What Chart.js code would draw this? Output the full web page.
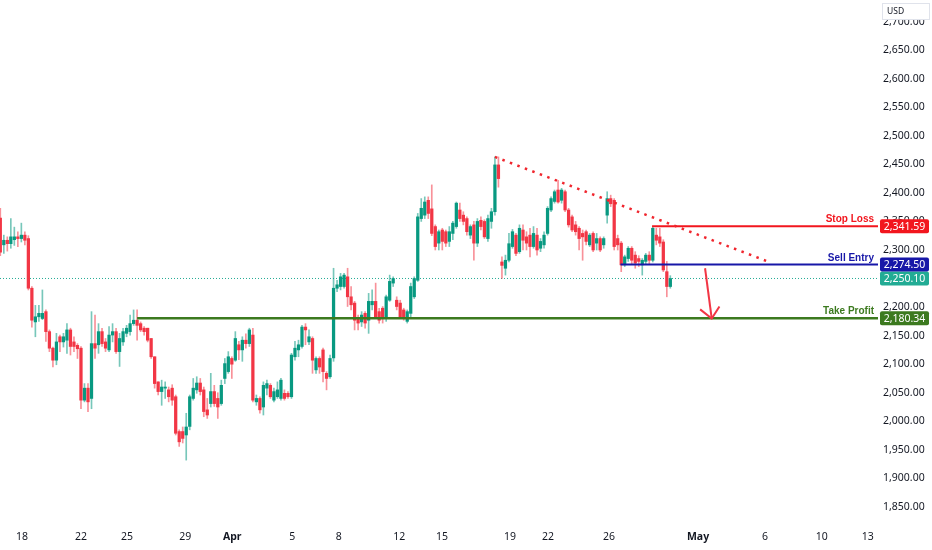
<!DOCTYPE html>
<html>
<head>
<meta charset="utf-8">
<script src="https://cdn.jsdelivr.net/npm/chart.js@4.4.1/dist/chart.umd.min.js"></script>
<style>
  html, body { margin: 0; padding: 0; background: #ffffff; }
  #wrap { width: 932px; height: 550px; position: relative; }
</style>
</head>
<body>
<div id="wrap"><canvas id="priceChart"></canvas></div>
<script>

/* candles (one per slot, oldest first) */

var opens = [
  2356,2309,2317,2311,2318,2323,2320,2326,2320,2233,
  2174,2183,2180,2192,2157,2128,2107,2148,2139,2142,
  2160,2139,2133,2128,2037,2058,2040,2136,2134,2157,
  2139,2125,2151,2157,2122,2139,2154,2157,2171,2177,
  2171,2163,2163,2145,2113,2069,2052,2058,2055,
  2058,2043,1982,1982,1976,1991,2040,2055,2067,2055,
  2020,2031,2052,2040,2031,2075,2087,2110,2107,2134,
  2125,2142,2136,2151,2034,2040,2025,2058,2063,2037,
  2043,2040,2049,2049,2043,2113,2125,2131,2165,2139,
  2145,2090,2110,2125,2084,2078,2111,
  2233,2236,2236,2253,2218,2207,2180,2174,2189,2177,
  2204,2210,2192,2198,2180,2212,2242,2212,2207,2195,
  2175,2189,2218,2247,2355,2361,2387,2372,2341,2312,
  2335,2332,2315,2329,2341,2370,2361,2355,2326,2344,
  2312,2352,2350,2320,2350,2367,2449,
  2279,2268,2282,2306,2326,2297,2335,2323,2326,2306,
  2326,2303,2309,2329,2370,2385,2405,2387,2402,2370,
  2358,2344,2338,2329,2332,2309,2329,2312,2320,2309,
  2361,2390,2387,2320,2312,2274,2285,2303,2291,2285,
  2274,2280,2291,2282,2326,2323,2314,2262,2236
];
var highs = [
  2373,2326,2323,2355,2340,2332,2347,2332,2325,2236,
  2203,2203,2230,2195,2160,2130,2154,2151,2154,2171,
  2163,2148,2136,2131,2066,2066,2192,2186,2171,2163,
  2145,2166,2171,2163,2154,2163,2168,2186,2195,2195,
  2174,2166,2163,2145,2113,2069,2072,2069,2060,
  2064,2046,1985,1990,2014,2046,2075,2078,2075,2060,
  2040,2084,2063,2050,2072,2110,2122,2113,2157,2140,
  2148,2153,2163,2163,2046,2043,2069,2072,2066,2058,
  2069,2075,2055,2052,2119,2140,2142,2168,2171,2160,
  2148,2113,2113,2128,2087,2116,2268,
  2247,2259,2259,2268,2236,2210,2186,2192,2192,2224,
  2230,2242,2198,2201,2221,2256,2253,2218,2212,2198,
  2195,2242,2253,2364,2390,2393,2393,2414,2344,2335,
  2338,2335,2341,2350,2384,2382,2367,2358,2344,2350,
  2355,2358,2353,2361,2373,2463,2463,
  2288,2291,2329,2336,2329,2344,2344,2332,2338,2341,
  2338,2320,2332,2376,2393,2405,2422,2408,2405,2373,
  2361,2350,2341,2335,2335,2329,2332,2329,2323,2323,
  2402,2396,2390,2326,2315,2291,2306,2306,2297,2290,
  2285,2294,2297,2341,2338,2338,2318,2280,2255
];
var lows = [
  2290,2294,2298,2303,2308,2306,2314,2309,2230,2165,
  2148,2175,2178,2140,2122,2095,2099,2122,2130,2119,
  2116,2122,2110,2022,2034,2017,2022,2110,2119,2131,
  2122,2122,2139,2119,2096,2133,2148,2151,2168,2142,
  2157,2151,2139,2110,2058,2046,2028,2040,2034,
  2028,1976,1956,1962,1932,1985,2037,2049,2046,2008,
  2005,2025,2026,2005,2028,2066,2084,2075,2105,2108,
  2105,2128,2131,2034,2028,2014,2011,2046,2040,2034,
  2040,2037,2037,2040,2040,2107,2113,2128,2134,2134,
  2084,2084,2084,2069,2055,2075,2105,
  2227,2230,2233,2201,2195,2160,2160,2166,2163,2154,
  2195,2180,2172,2172,2175,2210,2236,2195,2180,2177,
  2172,2180,2215,2245,2350,2355,2355,2325,2300,2300,
  2300,2306,2306,2318,2338,2350,2344,2326,2320,2282,
  2306,2335,2320,2315,2338,2361,2410,
  2250,2256,2279,2303,2290,2294,2300,2300,2288,2303,
  2291,2297,2303,2326,2367,2382,2382,2382,2367,2340,
  2332,2326,2300,2282,2309,2306,2297,2300,2297,2303,
  2347,2376,2300,2300,2262,2271,2280,2276,2268,2271,
  2256,2276,2276,2279,2309,2306,2262,2218,2233
];
var closes = [
  2296,2317,2311,2323,2323,2320,2326,2317,2233,2177,
  2183,2189,2189,2157,2128,2107,2139,2139,2148,2160,
  2131,2131,2127,2037,2058,2034,2136,2128,2157,2136,
  2128,2151,2157,2122,2145,2157,2163,2171,2177,2168,
  2160,2157,2142,2113,2066,2052,2060,2060,2043,
  2037,1979,1964,1970,1990,2043,2058,2067,2052,2017,
  2011,2052,2031,2025,2063,2101,2113,2100,2145,2125,
  2142,2136,2160,2037,2040,2020,2063,2066,2043,2052,
  2055,2072,2040,2043,2116,2128,2134,2165,2160,2148,
  2107,2110,2095,2087,2075,2110,2233,
  2239,2253,2256,2218,2204,2177,2172,2186,2172,2210,
  2210,2183,2177,2180,2218,2245,2250,2201,2183,2180,
  2192,2236,2250,2358,2373,2384,2364,2329,2306,2332,
  2315,2312,2332,2347,2382,2355,2350,2332,2341,2312,
  2350,2341,2323,2355,2367,2449,2425,
  2273,2282,2311,2332,2294,2338,2317,2312,2306,2329,
  2300,2315,2326,2373,2390,2402,2384,2405,2370,2344,
  2335,2332,2320,2323,2315,2326,2300,2320,2300,2320,
  2390,2381,2306,2309,2274,2288,2303,2282,2277,2280,
  2282,2291,2282,2338,2317,2312,2265,2236,2250
];

/* axes */
var priceTicks = [1850, 1900, 1950, 2000, 2050, 2100, 2150, 2200, 2250, 2300,
                  2350, 2400, 2450, 2500, 2550, 2600, 2650, 2700];
var dateTickSlots = [6.2, 23, 36.1, 52.7, 66.1, 83.2, 96.5, 113.7, 125.9, 145.3,
                     156.1, 173.5, 198.9, 218, 234.2, 247.3];
var dateTickText = ['18', '22', '25', '29', 'Apr', '5', '8', '12', '15', '19',
                    '22', '26', 'May', '6', '10', '13'];

/* drawings on the chart */
var levelNames = ['Stop Loss', 'Sell Entry', 'Take Profit'];
var levelValues = [2341.59, 2274.50, 2180.34];
var levelFrom = [185.8, 176.8, 39];
var lastPrice = 2250.10;
var trendLine = [[141, 2463], [218.3, 2281]];
var arrowShaft = [[200.9, 2268], [202.8, 2180]];
var arrowHead = [[199.5, 2196], [202.8, 2180], [205, 2201]];

var UP = '#089981', DOWN = '#f23645';
var levelColors = ['#f2161e', '#1717a8', '#3c7a1f'];
var slotMin = -0.085, slotMax = 250.2;
var FONT = '"Noto Sans", sans-serif';

function pts(list) {
  return list.map(function(p) { return { x: p[0], y: p[1] }; });
}
function money(v) {
  return v.toLocaleString('en-US', { minimumFractionDigits: 2, maximumFractionDigits: 2 });
}
// chart.js keeps half a label of room at the axis ends, the reference does not
function noEdgePadding(scale) {
  scale.paddingTop = 0;
  scale.paddingBottom = 0;
  scale.paddingLeft = 0;
  scale.paddingRight = 0;
}

var bodies = [], wicks = [], bodyColors = [], wickColors = [];
opens.forEach(function(o, i) {
  var c = closes[i];
  var up = c >= o;
  bodies.push({ x: i, y: [o, c] });
  wicks.push({ x: i, y: [Math.min(lows[i], o, c), Math.max(highs[i], o, c)] });
  bodyColors.push(up ? UP : DOWN);
  wickColors.push(up ? 'rgba(8,153,129,0.55)' : 'rgba(242,54,69,0.55)');
});

var datasets = [
  { type: 'line', data: pts(arrowShaft), borderColor: DOWN, borderWidth: 2, pointRadius: 0, order: 1 },
  { type: 'line', data: pts(arrowHead), borderColor: DOWN, borderWidth: 2, pointRadius: 0, order: 1 },
  { type: 'line', data: pts(trendLine), borderColor: '#f0262e', borderWidth: 2.5,
    borderDash: [2.5, 5.5], pointRadius: 0, order: 2 }
];
levelNames.forEach(function(name, i) {
  datasets.push({
    type: 'line',
    data: [{ x: levelFrom[i], y: levelValues[i] }, { x: slotMax, y: levelValues[i] }],
    borderColor: levelColors[i], borderWidth: i === 2 ? 2.5 : 2, pointRadius: 0, order: 3
  });
});
datasets.push({ type: 'bar', data: bodies, backgroundColor: bodyColors, barThickness: 2.6,
  minBarLength: 1, grouped: false, order: 5 });
datasets.push({ type: 'bar', data: wicks, backgroundColor: wickColors, barThickness: 1,
  grouped: false, order: 6 });
datasets.push({ type: 'line', data: [{ x: slotMin, y: lastPrice }, { x: slotMax, y: lastPrice }],
  borderColor: '#22ab94', borderWidth: 1, borderDash: [1, 2], pointRadius: 0, order: 10 });

/* captions, price tags and the USD badge */
var overlay = {
  id: 'overlay',
  afterDraw: function(chart) {
    var ctx = chart.ctx, y = chart.scales.y, area = chart.chartArea;
    ctx.save();

    ctx.font = 'bold 10px "Liberation Sans", sans-serif';
    ctx.textAlign = 'right';
    ctx.textBaseline = 'alphabetic';
    levelNames.forEach(function(name, i) {
      ctx.fillStyle = levelColors[i];
      ctx.fillText(name, area.right - 4, y.getPixelForValue(levelValues[i]) - 4);
    });

    var tags = [[lastPrice, '#22ab94']];
    levelValues.forEach(function(v, i) { tags.push([v, levelColors[i]]); });
    ctx.font = '10.5px ' + FONT;
    ctx.textAlign = 'center';
    ctx.textBaseline = 'middle';
    tags.forEach(function(t) {
      var py = y.getPixelForValue(t[0]);
      ctx.fillStyle = t[1];
      ctx.beginPath();
      if (ctx.roundRect) ctx.roundRect(880, py - 7, 49, 14, 2);
      else ctx.rect(880, py - 7, 49, 14);
      ctx.fill();
      ctx.fillStyle = '#ffffff';
      ctx.fillText(money(t[0]), 904.5, py + 0.5);
    });

    // the badge sits over the top price label, as in the reference
    ctx.fillStyle = '#ffffff';
    ctx.fillRect(882.5, 3.5, 47, 16);
    ctx.strokeStyle = '#e0e3eb';
    ctx.lineWidth = 1;
    ctx.strokeRect(882.5, 3.5, 47, 16);
    ctx.fillStyle = '#131722';
    ctx.font = '8.5px ' + FONT;
    ctx.textAlign = 'left';
    ctx.fillText('USD', 887, 11.5);

    ctx.restore();
  }
};

var priceChart = new Chart(document.getElementById('priceChart'), {
  type: 'bar',
  data: { datasets: datasets },
  options: {
    responsive: true,
    maintainAspectRatio: false,
    animation: false,
    layout: { padding: 0 },
    plugins: { legend: { display: false }, tooltip: { enabled: false } },
    elements: { line: { tension: 0, fill: false } },
    scales: {
      x: {
        type: 'linear',
        position: 'bottom',
        min: slotMin,
        max: slotMax,
        offset: false,
        bounds: 'data',
        grid: { display: false, drawTicks: false },
        border: { display: false },
        afterBuildTicks: function(scale) {
          scale.ticks = dateTickSlots.map(function(v) { return { value: v }; });
        },
        afterFit: function(scale) { scale.height = 28; noEdgePadding(scale); },
        ticks: {
          autoSkip: false,
          maxRotation: 0,
          padding: 9,
          color: '#131722',
          font: function(c) {
            var bold = /^[A-Z]/.test(dateTickText[c.index] || '');
            return { family: FONT, size: 10.5, weight: bold ? 'bold' : 'normal' };
          },
          callback: function(value, index) { return dateTickText[index]; }
        }
      },
      y: {
        type: 'linear',
        position: 'right',
        min: 1823.6,
        max: 2737.8,
        bounds: 'data',
        grid: { display: false, drawTicks: false },
        border: { display: false },
        afterBuildTicks: function(scale) {
          scale.ticks = priceTicks.map(function(v) { return { value: v }; });
        },
        afterFit: function(scale) { scale.width = 54; noEdgePadding(scale); },
        ticks: {
          padding: 5,
          color: '#131722',
          font: { family: FONT, size: 10.5 },
          callback: function(value) { return money(value); }
        }
      }
    }
  },
  plugins: [overlay]
});

</script>
</body>
</html>
